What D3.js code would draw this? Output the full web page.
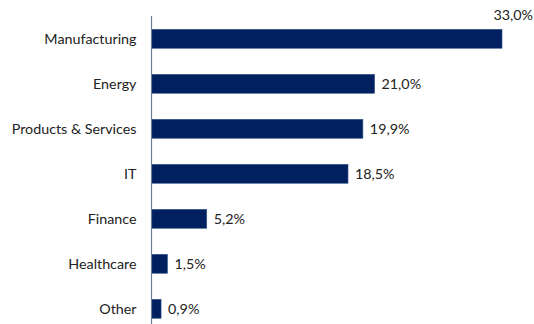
<!DOCTYPE html>
<html lang="en">
<head>
<meta charset="UTF-8">
<title>Sectors</title>
<style>
  body { margin: 0; background: #fff; }
  svg { display: block; }
</style>
</head>
<body>
<script src="https://cdn.jsdelivr.net/npm/d3@7"></script>
<script>
  const categories = ['Manufacturing', 'Energy', 'Products & Services', 'IT', 'Finance', 'Healthcare', 'Other'];
  const values = [33.0, 21.0, 19.9, 18.5, 5.2, 1.5, 0.9];
  const labels = ['33,0%', '21,0%', '19,9%', '18,5%', '5,2%', '1,5%', '0,9%'];

  const w = 534, h = 324;
  const axisX = 151.5;
  const font = 'Lato, "Open Sans", sans-serif';
  const fontSize = '14.3px';

  const svg = d3.select('body').append('svg')
    .attr('width', w)
    .attr('height', h);

  // x: ~10.62 px per percent
  const xScale = d3.scaleLinear()
    .domain([0, 33])
    .range([axisX, 502]);

  const yScale = d3.scaleBand()
    .domain(categories)
    .range([16.3, 331.3])
    .paddingInner(0.58)
    .paddingOuter(0.29);

  const data = categories.map((c, i) => ({ cat: c, v: values[i], lab: labels[i] }));

  svg.selectAll('rect.bar')
    .data(data)
    .enter()
    .append('rect')
    .attr('class', 'bar')
    .attr('x', axisX)
    .attr('y', d => yScale(d.cat))
    .attr('width', d => xScale(d.v) - axisX)
    .attr('height', yScale.bandwidth())
    .attr('fill', '#002060')
    .attr('stroke', '#2f4f86')
    .attr('stroke-width', 0.6);

  // vertical axis line
  svg.append('line')
    .attr('x1', axisX).attr('x2', axisX)
    .attr('y1', 16).attr('y2', h)
    .attr('stroke', '#6f7d99')
    .attr('stroke-width', 1.2);

  // category labels
  svg.selectAll('text.cat')
    .data(data)
    .enter()
    .append('text')
    .attr('class', 'cat')
    .attr('x', 136.5)
    .attr('y', d => yScale(d.cat) + yScale.bandwidth() / 2)
    .attr('dy', '0.36em')
    .attr('text-anchor', 'end')
    .attr('font-family', font)
    .attr('font-size', fontSize)
    .attr('fill', '#222')
    .text(d => d.cat);

  // value labels, the first one sits above the bar end, kept inside the frame
  svg.selectAll('text.val')
    .data(data)
    .enter()
    .append('text')
    .attr('class', 'val')
    .attr('x', (d, i) => i === 0 ? w - 1 : xScale(d.v) + 7)
    .attr('y', (d, i) => i === 0 ? 15 : yScale(d.cat) + yScale.bandwidth() / 2)
    .attr('dy', '0.36em')
    .attr('text-anchor', (d, i) => i === 0 ? 'end' : 'start')
    .attr('font-family', font)
    .attr('font-size', fontSize)
    .attr('fill', '#222')
    .text(d => d.lab);
</script>
</body>
</html>
